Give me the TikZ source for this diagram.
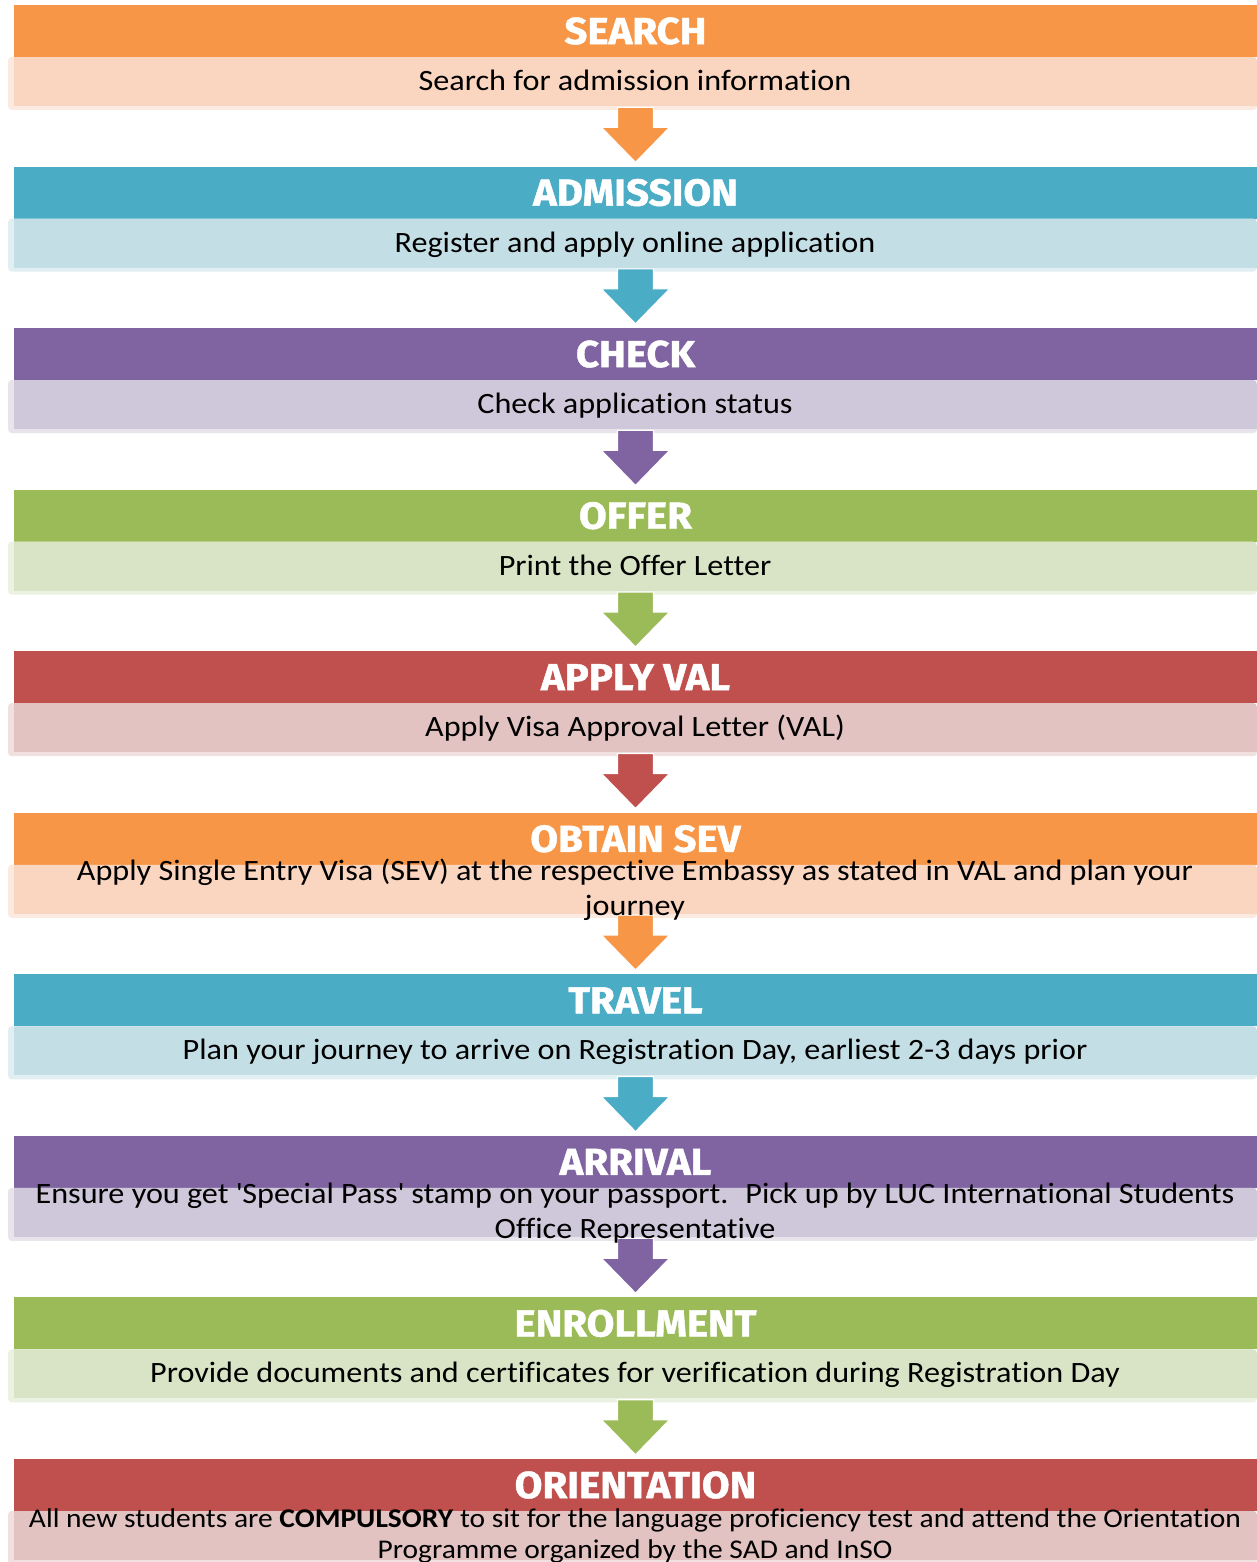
\documentclass[tikz,border=0pt]{standalone}
\usepackage{fontspec}
\setmainfont{Carlito}[FakeStretch=1.09, Ligatures={NoCommon}]
\newfontfamily\headfont{Fira Sans}[FakeStretch=1.07, BoldFeatures={FakeBold=1.2}]
\usetikzlibrary{calc}

\definecolor{steporange}{HTML}{F79646}
\definecolor{stepblue}{HTML}{4BACC6}
\definecolor{steppurple}{HTML}{8064A2}
\definecolor{stepgreen}{HTML}{9BBB59}
\definecolor{stepred}{HTML}{C0504D}
\definecolor{steporangelight}{HTML}{FAD6C1}
\definecolor{stepbluelight}{HTML}{C4DEE6}
\definecolor{steppurplelight}{HTML}{CFC8DA}
\definecolor{stepgreenlight}{HTML}{D8E4C5}
\definecolor{stepredlight}{HTML}{E2C3C2}

% block arrow from a band down to the next heading
\newcommand{\stagearrow}[3]{%
  \coordinate (ao) at (#1.south -| #2.north);
  \path[fill=#3, draw=white, line width=0.6pt]
    ($(ao)+(-18,-3)$) -- ($(ao)+(18,-3)$) -- ($(ao)+(18,17)$) -- ($(ao)+(34,17)$)
    -- ($(#2.north)+(0,-4)$) -- ($(ao)+(-34,17)$) -- ($(ao)+(-18,17)$) -- cycle;
}

\begin{document}
\begin{tikzpicture}[x=0.02cm,y=-0.02cm,
  head/.style={fill=#1, text=white, minimum width=24.86cm, minimum height=1.04cm, inner sep=0pt,
    font=\headfont\bfseries\fontsize{21.4}{24}\selectfont},
  band/.style={rectangle, rounded corners=2pt, minimum width=24.98cm, minimum height=1.06cm, inner sep=0pt,
    fill=#1light!50!white,
    path picture={\fill[#1light, sharp corners] ([xshift=0.12cm]path picture bounding box.north west)
      rectangle ([yshift=0.08cm]path picture bounding box.south east);}},
  desc/.style={align=center, inner sep=0pt, font=\fontsize{16.8}{19.8}\selectfont}]
  \useasboundingbox[fill=white] (0,0) rectangle (1257,1562);

  \node[head=steporange]  (search)  at (635.5,31)     {SEARCH};
  \node[band=steporange]  (searchband)  at (632.5,83.5)   {};
  \node[head=stepblue]    (admission) at (635.5,192.6)  {ADMISSION};
  \node[band=stepblue]    (admissionband) at (632.5,245.1)  {};
  \node[head=steppurple]  (check)   at (635.5,354.1)  {CHECK};
  \node[band=steppurple]  (checkband)   at (632.5,406.6)  {};
  \node[head=stepgreen]   (offer)   at (635.5,515.7)  {OFFER};
  \node[band=stepgreen]   (offerband)   at (632.5,568.2)  {};
  \node[head=stepred]     (applyval) at (635.5,677.2) {APPLY VAL};
  \node[band=stepred]     (applyvalband) at (632.5,729.7) {};
  \node[head=steporange]  (obtainsev) at (635.5,838.8) {OBTAIN SEV};
  \node[band=steporange]  (obtainsevband) at (632.5,891.3) {};
  \node[head=stepblue]    (travel)  at (635.5,1000.3) {TRAVEL};
  \node[band=stepblue]    (travelband)  at (632.5,1052.8) {};
  \node[head=steppurple]  (arrival) at (635.5,1161.9) {ARRIVAL};
  \node[band=steppurple]  (arrivalband) at (632.5,1214.4) {};
  \node[head=stepgreen]   (enrollment) at (635.5,1323.4) {ENROLLMENT};
  \node[band=stepgreen]   (enrollmentband) at (632.5,1375.9) {};
  \node[head=stepred]     (orientation) at (635.5,1485) {ORIENTATION};
  \node[band=stepred]     (orientationband) at (632.5,1537.5) {};

  \stagearrow{searchband}{admission}{steporange}
  \stagearrow{admissionband}{check}{stepblue}
  \stagearrow{checkband}{offer}{steppurple}
  \stagearrow{offerband}{applyval}{stepgreen}
  \stagearrow{applyvalband}{obtainsev}{stepred}
  \stagearrow{obtainsevband}{travel}{steporange}
  \stagearrow{travelband}{arrival}{stepblue}
  \stagearrow{arrivalband}{enrollment}{steppurple}
  \stagearrow{enrollmentband}{orientation}{stepgreen}

  \node[desc] (searchtxt) at (635,83.5) {\strut Search for admission information\strut};
  \node[desc] (admissiontxt) at (635,245.1) {\strut Register and apply online application\strut};
  \node[desc] (checktxt) at (635,406.6) {\strut Check application status\strut};
  \node[desc] (offertxt) at (635,568.2) {\strut Print the Offer Letter\strut};
  \node[desc] (applyvaltxt) at (635,729.7) {\strut Apply Visa Approval Letter (VAL)\strut};
  \node[desc] (obtainsevtxt) at (635,891.3) {\strut Apply Single Entry Visa (SEV) at the respective Embassy as stated in VAL and plan your\\ journey\strut};
  \node[desc] (traveltxt) at (635,1052.8) {\strut Plan your journey to arrive on Registration Day, earliest 2-3 days prior\strut};
  \node[desc] (arrivaltxt) at (635,1214.4) {\strut Ensure you get \textquotesingle Special Pass\textquotesingle{} stamp on your passport.~ Pick up by LUC International Students\\ Office Representative\strut};
  \node[desc] (enrollmenttxt) at (635,1375.9) {\strut Provide documents and certificates for verification during Registration Day\strut};
  \node[desc, font=\fontsize{15.4}{17.6}\selectfont] (orientationtxt) at (635,1537) {\strut All new students are \textbf{COMPULSORY} to sit for the language proficiency test and attend the Orientation\\ Programme organized by the SAD and InSO\strut};
\end{tikzpicture}
\end{document}
